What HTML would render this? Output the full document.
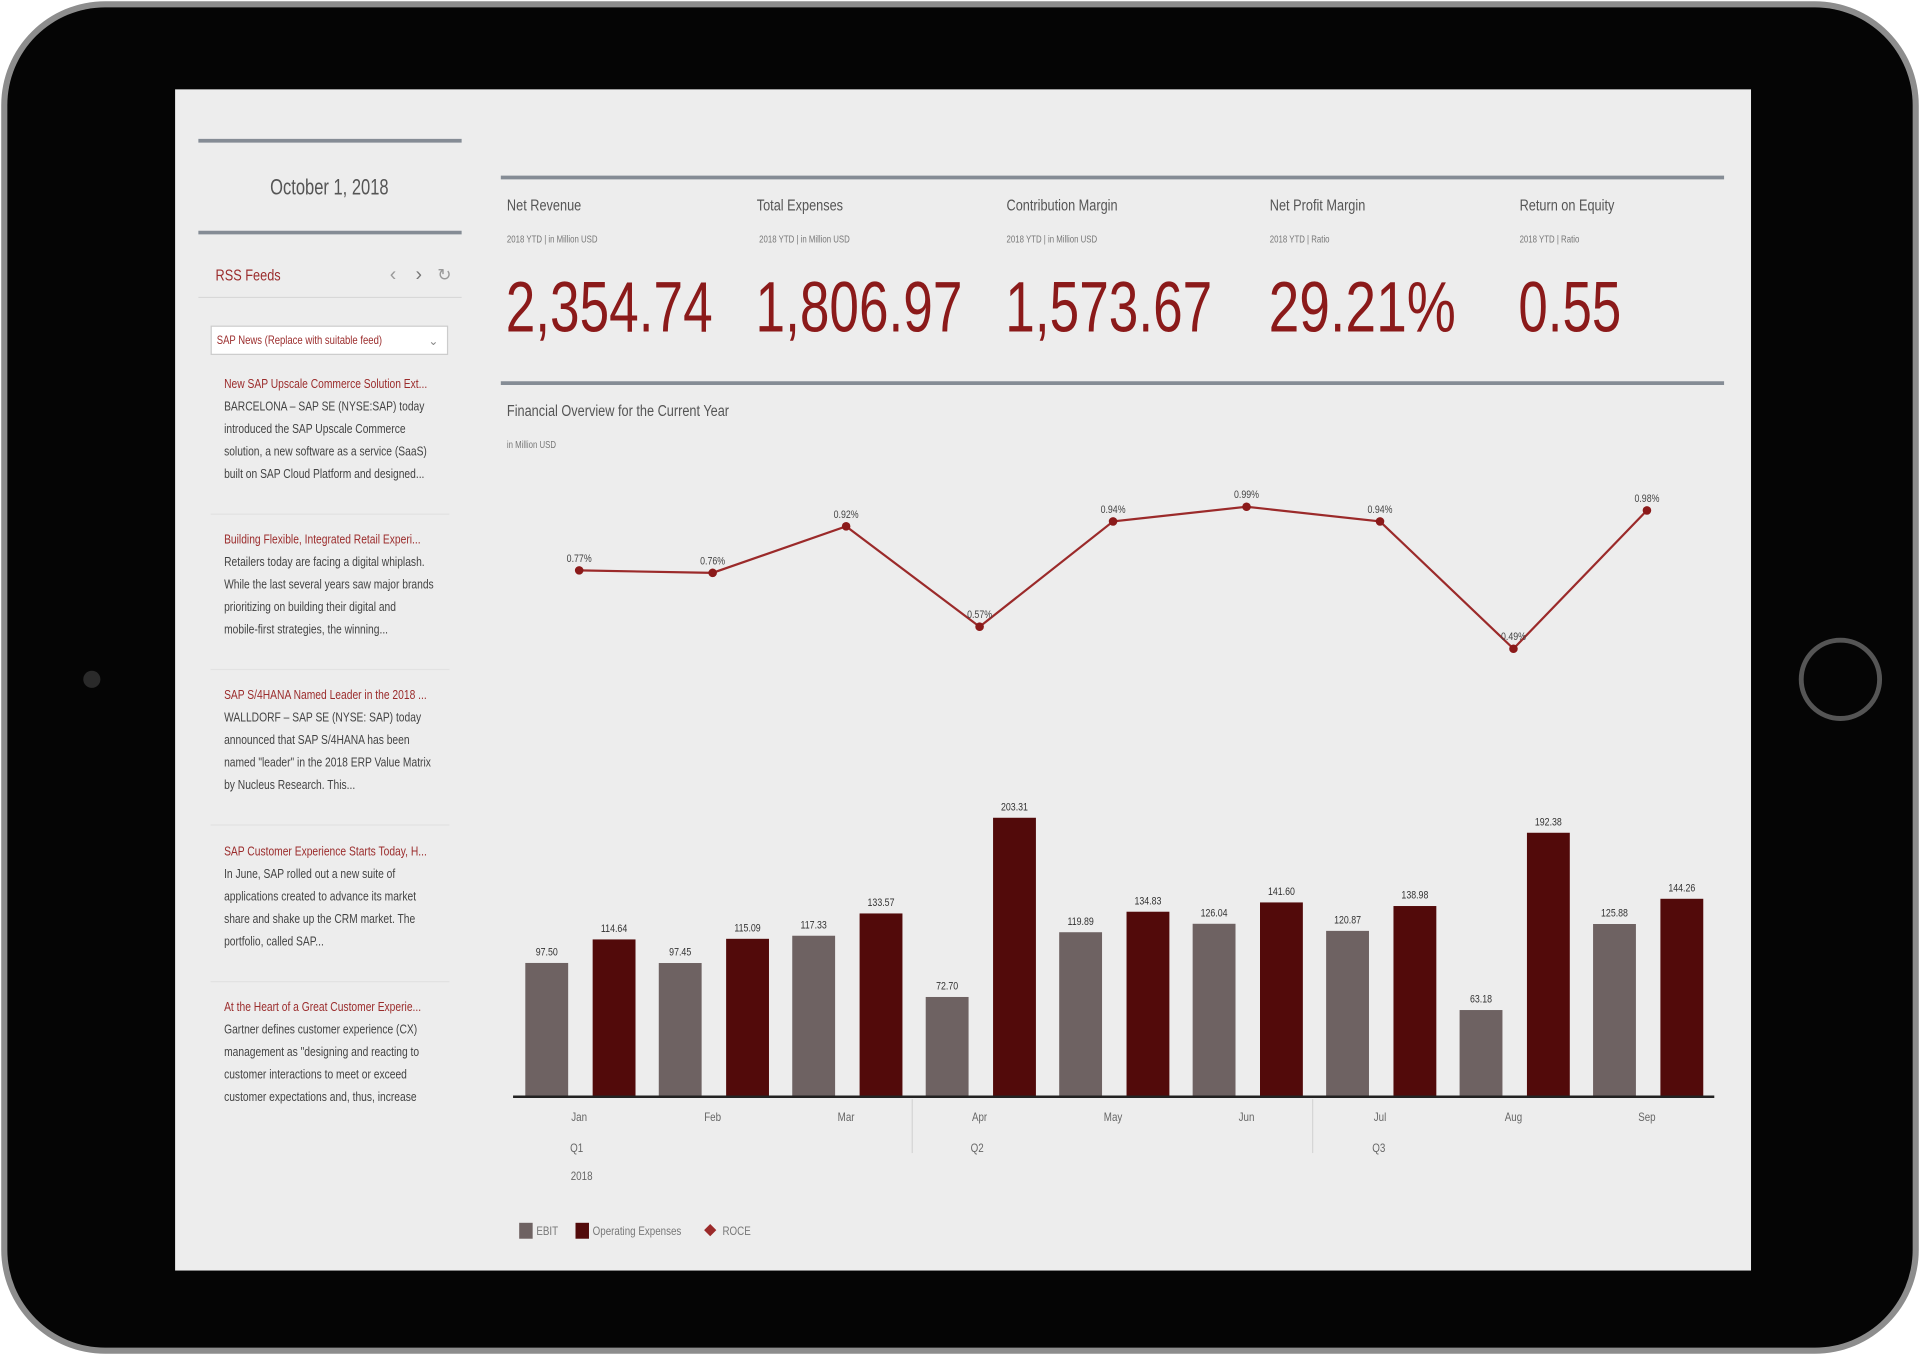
<!DOCTYPE html>
<html><head><meta charset="utf-8"><style>
html,body{margin:0;padding:0;background:#fff;width:1920px;height:1355px;overflow:hidden}
svg{display:block}
text{font-family:"Liberation Sans Narrow","Liberation Sans",sans-serif}
</style></head><body>
<svg id="s" width="1920" height="1355" viewBox="0 0 1568 1107" preserveAspectRatio="none" xmlns="http://www.w3.org/2000/svg">
<rect x="0" y="0" width="1568" height="1107" fill="#fff"/>
<rect x="1" y="1" width="1566" height="1105" rx="85" fill="#8d8d8d"/>
<rect x="6" y="6" width="1556" height="1095" rx="80" fill="#050505"/>
<circle cx="1503" cy="555" r="32" fill="none" stroke="#555" stroke-width="4"/>
<circle cx="75" cy="555" r="7" fill="#2a2a2a"/>
<rect x="143" y="73" width="1287" height="965" fill="#ededed"/>
<g fill="none" stroke="#858c95" stroke-width="3">
<line x1="162" y1="115" x2="377" y2="115"/><line x1="162" y1="190" x2="377" y2="190"/>
<line x1="409" y1="145" x2="1408" y2="145"/><line x1="409" y1="313" x2="1408" y2="313"/>
</g>
<line x1="162" y1="243" x2="377" y2="243" stroke="#d8d8d8" stroke-width="1"/>
<text class="n" data-f="0.75" x="269" y="159" font-size="18" fill="#555" text-anchor="middle">October 1, 2018</text>
<text class="n" x="176" y="229" font-size="13" fill="#9b2c2c">RSS Feeds</text>
<text x="321" y="229" font-size="16" fill="#999" text-anchor="middle">‹</text>
<text x="342" y="229" font-size="16" fill="#777" text-anchor="middle">›</text>
<text x="363" y="229" font-size="14" fill="#999" text-anchor="middle">↻</text>
<rect x="172.5" y="266.5" width="193" height="23" fill="#fff" stroke="#ccc"/>
<text x="177" y="281" font-size="10" fill="#9b2c2c" textLength="135" lengthAdjust="spacingAndGlyphs">SAP News (Replace with suitable feed)</text>
<text x="354" y="282" font-size="10" fill="#888" text-anchor="middle">⌄</text>
<g id="news" font-size="11"></g>
<g font-size="13" fill="#555">
<text class="n" x="414" y="172">Net Revenue</text><text class="n" x="618" y="172">Total Expenses</text><text class="n" x="822" y="172">Contribution Margin</text><text class="n" x="1037" y="172">Net Profit Margin</text><text class="n" x="1241" y="172">Return on Equity</text>
</g>
<g font-size="8" fill="#777">
<text class="n" x="414" y="198">2018 YTD | in Million USD</text><text class="n" x="620" y="198">2018 YTD | in Million USD</text><text class="n" x="822" y="198">2018 YTD | in Million USD</text><text class="n" x="1037" y="198">2018 YTD | Ratio</text><text class="n" x="1241" y="198">2018 YTD | Ratio</text>
</g>
<g font-size="58" fill="#8b1a1a">
<text x="413" y="271" textLength="169" lengthAdjust="spacingAndGlyphs">2,354.74</text>
<text x="617" y="271" textLength="169" lengthAdjust="spacingAndGlyphs">1,806.97</text>
<text x="821" y="271" textLength="169" lengthAdjust="spacingAndGlyphs">1,573.67</text>
<text x="1036" y="271" textLength="153" lengthAdjust="spacingAndGlyphs">29.21%</text>
<text x="1240" y="271" textLength="84" lengthAdjust="spacingAndGlyphs">0.55</text>
</g>
<text class="n" x="414" y="340" font-size="13" fill="#555">Financial Overview for the Current Year</text>
<text class="n" x="414" y="366" font-size="8" fill="#777">in Million USD</text>
<g id="chart"></g>
<line x1="419" y1="896" x2="1400" y2="896" stroke="#222" stroke-width="2"/>
<line x1="745" y1="898" x2="745" y2="942" stroke="#d5d5d5"/>
<line x1="1072" y1="898" x2="1072" y2="942" stroke="#d5d5d5"/>
<g font-size="10" fill="#666" text-anchor="middle">
<text class="n" x="471" y="941">Q1</text><text class="n" x="798" y="941">Q2</text><text class="n" x="1126" y="941">Q3</text><text class="n" x="475" y="964">2018</text>
</g>
<rect x="424" y="999" width="11" height="13" fill="#6e6262"/>
<text class="n" x="438" y="1009" font-size="10" fill="#777">EBIT</text>
<rect x="470" y="999" width="11" height="13" fill="#520a0a"/>
<text class="n" x="484" y="1009" font-size="10" fill="#777">Operating Expenses</text>
<path d="M580 1000 L585 1005 L580 1010 L575 1005Z" fill="#9b2a2a"/>
<text class="n" x="590" y="1009" font-size="10" fill="#777">ROCE</text>
</svg>
<script>
var NS="http://www.w3.org/2000/svg";
function el(p,t,a,txt){var e=document.createElementNS(NS,t);for(var k in a)e.setAttribute(k,a[k]);if(txt!=null)e.textContent=txt;p.appendChild(e);return e;}
var news=document.getElementById('news');
var items=[
["New SAP Upscale Commerce Solution Ext...","BARCELONA – SAP SE (NYSE:SAP) today","introduced the SAP Upscale Commerce","solution, a new software as a service (SaaS)","built on SAP Cloud Platform and designed..."],
["Building Flexible, Integrated Retail Experi...","Retailers today are facing a digital whiplash.","While the last several years saw major brands","prioritizing on building their digital and","mobile-first strategies, the winning..."],
["SAP S/4HANA Named Leader in the 2018 ...","WALLDORF – SAP SE (NYSE: SAP) today","announced that SAP S/4HANA has been","named \"leader\" in the 2018 ERP Value Matrix","by Nucleus Research. This..."],
["SAP Customer Experience Starts Today, H...","In June, SAP rolled out a new suite of","applications created to advance its market","share and shake up the CRM market. The","portfolio, called SAP..."],
["At the Heart of a Great Customer Experie...","Gartner defines customer experience (CX)","management as \"designing and reacting to","customer interactions to meet or exceed","customer expectations and, thus, increase"]];
var ty=[313,440,567,695,822];
items.forEach(function(it,i){
 it.forEach(function(l,j){
  el(news,'text',{'class':'n',x:183,y:ty[i]+4+j*18.4,fill:j?'#444':'#9b2c2c','font-size':10.5},l);
 });
 if(i<4) el(news,'line',{x1:172,y1:ty[i]+107,x2:367,y2:ty[i]+107,stroke:'#e2e2e2'});
});
var ch=document.getElementById('chart');
var months=["Jan","Feb","Mar","Apr","May","Jun","Jul","Aug","Sep"];
var ebit=[97.50,97.45,117.33,72.70,119.89,126.04,120.87,63.18,125.88];
var opx=[114.64,115.09,133.57,203.31,134.83,141.60,138.98,192.38,144.26];
var ly=[466,468,430,512,426,414,426,530,417];
var lv=["0.77%","0.76%","0.92%","0.57%","0.94%","0.99%","0.94%","0.49%","0.98%"];
var base=896,sc=1.121;
months.forEach(function(m,i){
 var c=473+109*i;
 var h1=ebit[i]*sc,h2=opx[i]*sc;
 el(ch,'rect',{x:c-44,y:base-h1,width:35,height:h1,fill:'#6e6262'});
 el(ch,'rect',{x:c+11,y:base-h2,width:35,height:h2,fill:'#520a0a'});
 el(ch,'text',{'class':'n',x:c-26.5,y:base-h1-6,'font-size':9,fill:'#333','text-anchor':'middle'},ebit[i].toFixed(2));
 el(ch,'text',{'class':'n',x:c+28.5,y:base-h2-6,'font-size':9,fill:'#333','text-anchor':'middle'},opx[i].toFixed(2));
 el(ch,'text',{'class':'n',x:c,y:916,'font-size':10,fill:'#666','text-anchor':'middle'},m);
});
var pts=ly.map(function(y,i){return (473+109*i)+","+y}).join(" ");
el(ch,'polyline',{points:pts,fill:'none',stroke:'#9b2a2a','stroke-width':1.8});
ly.forEach(function(y,i){var c=473+109*i;
 el(ch,'circle',{cx:c,cy:y,r:3.5,fill:'#8b1a1a'});
 el(ch,'text',{'class':'n',x:c,y:y-7,'font-size':9,fill:'#444','text-anchor':'middle'},lv[i]);
});
document.querySelectorAll('text.n').forEach(function(t){
 var f=parseFloat(t.getAttribute('data-f')||'0.8');
 var L=t.getComputedTextLength();
 if(L>0){t.setAttribute('textLength',(L*f).toFixed(1));t.setAttribute('lengthAdjust','spacingAndGlyphs');}
});
</script>
</body></html>
